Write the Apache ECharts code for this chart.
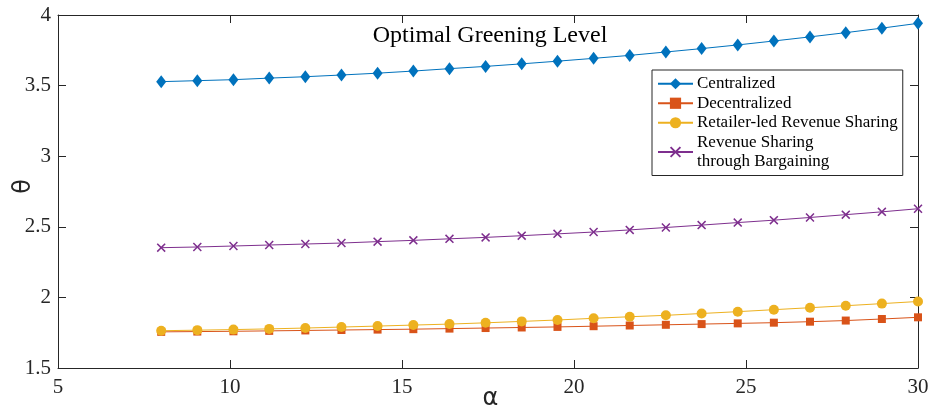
<!DOCTYPE html>
<html>
<head>
<meta charset="utf-8">
<script src="https://cdn.jsdelivr.net/npm/echarts@6/dist/echarts.min.js"></script>
<style>html,body{margin:0;padding:0;background:#fff}#c{width:932px;height:407px}</style>
</head>
<body>
<div id="c"></div>
<script>
const alphaValues = [8, 9.05, 10.1, 11.14, 12.19, 13.24, 14.29, 15.33, 16.38, 17.43, 18.48, 19.52, 20.57, 21.62, 22.67, 23.71, 24.76, 25.81, 26.86, 27.9, 28.95, 30];
const centralized = [3.528, 3.535, 3.542, 3.553, 3.563, 3.575, 3.588, 3.603, 3.620, 3.636, 3.654, 3.673, 3.693, 3.714, 3.738, 3.762, 3.788, 3.816, 3.845, 3.875, 3.907, 3.941];
const decentralized = [1.756, 1.758, 1.760, 1.763, 1.766, 1.769, 1.772, 1.775, 1.779, 1.783, 1.787, 1.791, 1.796, 1.801, 1.806, 1.811, 1.816, 1.821, 1.828, 1.836, 1.847, 1.859];
const retailerLed = [1.764, 1.768, 1.772, 1.777, 1.783, 1.790, 1.797, 1.804, 1.811, 1.820, 1.830, 1.840, 1.852, 1.863, 1.873, 1.886, 1.899, 1.913, 1.927, 1.941, 1.956, 1.971];
const bargaining = [2.352, 2.357, 2.364, 2.371, 2.378, 2.385, 2.395, 2.404, 2.415, 2.425, 2.437, 2.450, 2.463, 2.478, 2.495, 2.512, 2.530, 2.547, 2.566, 2.586, 2.606, 2.628];
const seriesNames = ['Centralized', 'Decentralized', 'Retailer-led Revenue Sharing', 'Revenue Sharing\nthrough Bargaining'];
const xTicks = {min: 5, max: 30, interval: 5};
const yTicks = {min: 1.5, max: 4, interval: 0.5};
const titleText = 'Optimal Greening Level';

const pair = arr => arr.map((v, i) => [alphaValues[i], v]);
const serif = '"Liberation Serif", "Times New Roman", serif';
const axisColor = '#262626';
const xShape = 'path://M0,1.2L1.2,0L5,3.8L8.8,0L10,1.2L6.2,5L10,8.8L8.8,10L5,6.2L1.2,10L0,8.8L3.8,5Z';

function mkSeries(name, data, color, symbol, size) {
  return {
    name, type: 'line', data: pair(data), xAxisIndex: 0, yAxisIndex: 0,
    symbol, symbolSize: size, showSymbol: true,
    lineStyle: {color, width: 1},
    itemStyle: {color, opacity: 1},
    emphasis: {disabled: true},
    animation: false
  };
}

const chart = echarts.init(document.getElementById('c'), null, {renderer: 'canvas'});
chart.setOption({
  backgroundColor: '#fff',
  animation: false,
  title: {
    text: titleText, left: 490, top: 23, textAlign: 'center', padding: 0,
    textStyle: {fontFamily: serif, fontSize: 24, fontWeight: 'normal', color: '#000', lineHeight: 26}
  },
  grid: {left: 58, right: 14, top: 15, bottom: 39, containLabel: false, outerBoundsMode: 'none'},
  legend: {
    orient: 'vertical', left: 652, top: 70,
    data: seriesNames,
    itemWidth: 35, itemHeight: 14, itemGap: 0,
    padding: [4, 5, 4, 5],
    borderColor: axisColor, borderWidth: 1, backgroundColor: '#fff',
    textStyle: {fontFamily: serif, fontSize: 17, color: '#000', lineHeight: 19.5, padding: [0, 0, 0, -1]},
    selectedMode: false
  },
  xAxis: [{
    type: 'value', min: xTicks.min, max: xTicks.max, interval: xTicks.interval, position: 'bottom',
    name: 'α', nameLocation: 'middle', nameGap: 19, nameMoveOverlap: false,
    nameTextStyle: {fontFamily: 'DejaVu Sans', fontSize: 24, color: '#262626', padding: [0, 0, 0, 5]},
    axisLine: {show: true, onZero: false, lineStyle: {color: axisColor, width: 1}},
    axisTick: {show: true, inside: true, length: 8, lineStyle: {color: axisColor}},
    axisLabel: {fontFamily: serif, fontSize: 21, color: '#262626', margin: 9},
    splitLine: {show: false}
  }, {
    type: 'value', min: xTicks.min, max: xTicks.max, interval: xTicks.interval, position: 'top',
    axisLine: {show: true, onZero: false, lineStyle: {color: axisColor, width: 1}},
    axisTick: {show: true, inside: true, length: 8, lineStyle: {color: axisColor}},
    axisLabel: {show: false}, splitLine: {show: false}
  }],
  yAxis: [{
    type: 'value', min: yTicks.min, max: yTicks.max, interval: yTicks.interval, position: 'left',
    name: 'θ', nameLocation: 'middle', nameGap: 22, nameRotate: 90, nameMoveOverlap: false,
    nameTextStyle: {fontFamily: 'DejaVu Sans', fontSize: 24, color: '#262626', padding: [0, 0, 0, 10]},
    axisLine: {show: true, onZero: false, lineStyle: {color: axisColor, width: 1}},
    axisTick: {show: true, inside: true, length: 8, lineStyle: {color: axisColor}},
    axisLabel: {fontFamily: serif, fontSize: 21, color: '#262626', margin: 7},
    splitLine: {show: false}
  }, {
    type: 'value', min: yTicks.min, max: yTicks.max, interval: yTicks.interval, position: 'right',
    axisLine: {show: true, onZero: false, lineStyle: {color: axisColor, width: 1}},
    axisTick: {show: true, inside: true, length: 8, lineStyle: {color: axisColor}},
    axisLabel: {show: false}, splitLine: {show: false}
  }],
  series: [
    mkSeries(seriesNames[0], centralized, '#0072BD', 'diamond', [10, 13]),
    mkSeries(seriesNames[1], decentralized, '#D95319', 'rect', 8),
    mkSeries(seriesNames[2], retailerLed, '#EDB120', 'circle', 10),
    mkSeries(seriesNames[3], bargaining, '#7E2F8E', xShape, 9)
  ]
});
</script>
</body>
</html>
